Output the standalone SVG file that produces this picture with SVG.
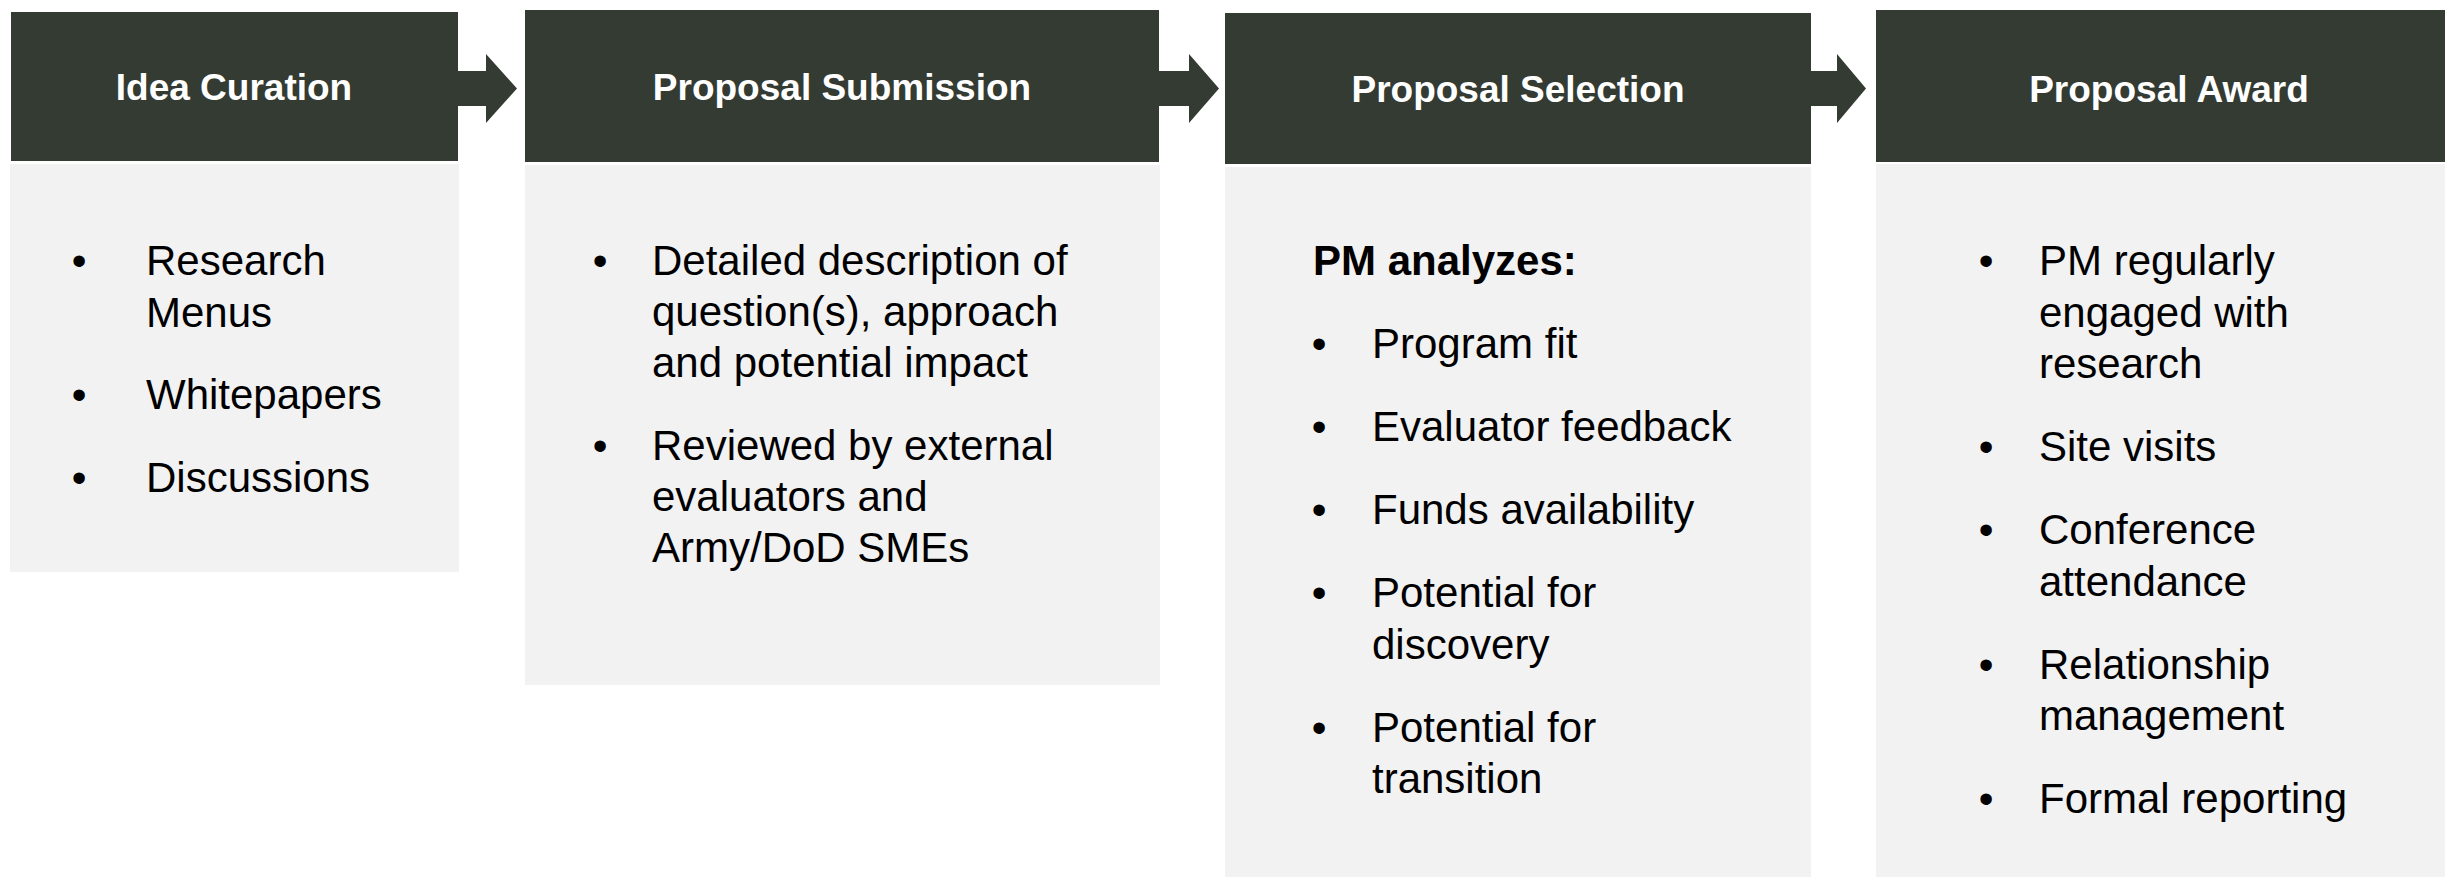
<svg xmlns="http://www.w3.org/2000/svg" width="2445" height="877" viewBox="0 0 2445 877">
  <style>
    .hdr { fill: #343b33; }
    .body { fill: #f2f2f2; }
    .title { font-family: "Liberation Sans", Arial, sans-serif; font-weight: bold; font-size: 37px; fill: #ffffff; text-anchor: middle; }
    .txt { font-family: "Liberation Sans", Arial, sans-serif; font-size: 42px; fill: #000000; }
    .bold { font-weight: bold; }
    .dot { text-anchor: middle; }
    .arrow { fill: #343b33; }
  </style>
  <rect width="2445" height="877" fill="#ffffff"/>

  <!-- Stage 1 -->
  <g id="idea-curation">
    <rect class="hdr" x="11" y="12" width="447" height="149"/>
    <rect class="body" x="10" y="164" width="449" height="408"/>
    <text class="title" x="234" y="100">Idea Curation</text>
    <text class="txt dot" x="79" y="275">•</text>
    <text class="txt" x="146" y="275">Research</text>
    <text class="txt" x="146" y="326.5">Menus</text>
    <text class="txt dot" x="79" y="409">•</text>
    <text class="txt" x="146" y="409">Whitepapers</text>
    <text class="txt dot" x="79" y="492">•</text>
    <text class="txt" x="146" y="492">Discussions</text>
  </g>

  <!-- Stage 2 -->
  <g id="proposal-submission">
    <rect class="hdr" x="525" y="10" width="634" height="152"/>
    <rect class="body" x="525" y="165" width="635" height="520"/>
    <text class="title" x="842" y="100">Proposal Submission</text>
    <text class="txt dot" x="600" y="275">•</text>
    <text class="txt" x="652" y="275">Detailed description of</text>
    <text class="txt" x="652" y="326">question(s), approach</text>
    <text class="txt" x="652" y="377">and potential impact</text>
    <text class="txt dot" x="600" y="460">•</text>
    <text class="txt" x="652" y="460">Reviewed by external</text>
    <text class="txt" x="652" y="511">evaluators and</text>
    <text class="txt" x="652" y="562">Army/DoD SMEs</text>
  </g>

  <!-- Stage 3 -->
  <g id="proposal-selection">
    <rect class="hdr" x="1225" y="13" width="586" height="151"/>
    <rect class="body" x="1225" y="167" width="586" height="710"/>
    <text class="title" x="1518" y="102">Proposal Selection</text>
    <text class="txt bold" x="1313" y="275">PM analyzes:</text>
    <text class="txt dot" x="1319" y="358">•</text>
    <text class="txt" x="1372" y="358">Program fit</text>
    <text class="txt dot" x="1319" y="441">•</text>
    <text class="txt" x="1372" y="441">Evaluator feedback</text>
    <text class="txt dot" x="1319" y="524">•</text>
    <text class="txt" x="1372" y="524">Funds availability</text>
    <text class="txt dot" x="1319" y="607">•</text>
    <text class="txt" x="1372" y="607">Potential for</text>
    <text class="txt" x="1372" y="658.5">discovery</text>
    <text class="txt dot" x="1319" y="742">•</text>
    <text class="txt" x="1372" y="742">Potential for</text>
    <text class="txt" x="1372" y="793">transition</text>
  </g>

  <!-- Stage 4 -->
  <g id="proposal-award">
    <rect class="hdr" x="1876" y="10" width="569" height="152"/>
    <rect class="body" x="1876" y="164" width="569" height="713"/>
    <text class="title" x="2169" y="102">Proposal Award</text>
    <text class="txt dot" x="1986" y="275">•</text>
    <text class="txt" x="2039" y="275">PM regularly</text>
    <text class="txt" x="2039" y="326.5">engaged with</text>
    <text class="txt" x="2039" y="378">research</text>
    <text class="txt dot" x="1986" y="461">•</text>
    <text class="txt" x="2039" y="461">Site visits</text>
    <text class="txt dot" x="1986" y="544">•</text>
    <text class="txt" x="2039" y="544">Conference</text>
    <text class="txt" x="2039" y="595.5">attendance</text>
    <text class="txt dot" x="1986" y="678.5">•</text>
    <text class="txt" x="2039" y="678.5">Relationship</text>
    <text class="txt" x="2039" y="730">management</text>
    <text class="txt dot" x="1986" y="813">•</text>
    <text class="txt" x="2039" y="813">Formal reporting</text>
  </g>

  <!-- Block arrows between stages -->
  <g id="connectors">
    <polygon class="arrow" points="458,71 486,71 486,54 517,88.5 486,123 486,106 458,106"/>
    <polygon class="arrow" points="1159,71 1189,71 1189,54 1219,88.5 1189,123 1189,106 1159,106"/>
    <polygon class="arrow" points="1811,71 1837,71 1837,54 1866,88.5 1837,123 1837,106 1811,106"/>
  </g>
</svg>
